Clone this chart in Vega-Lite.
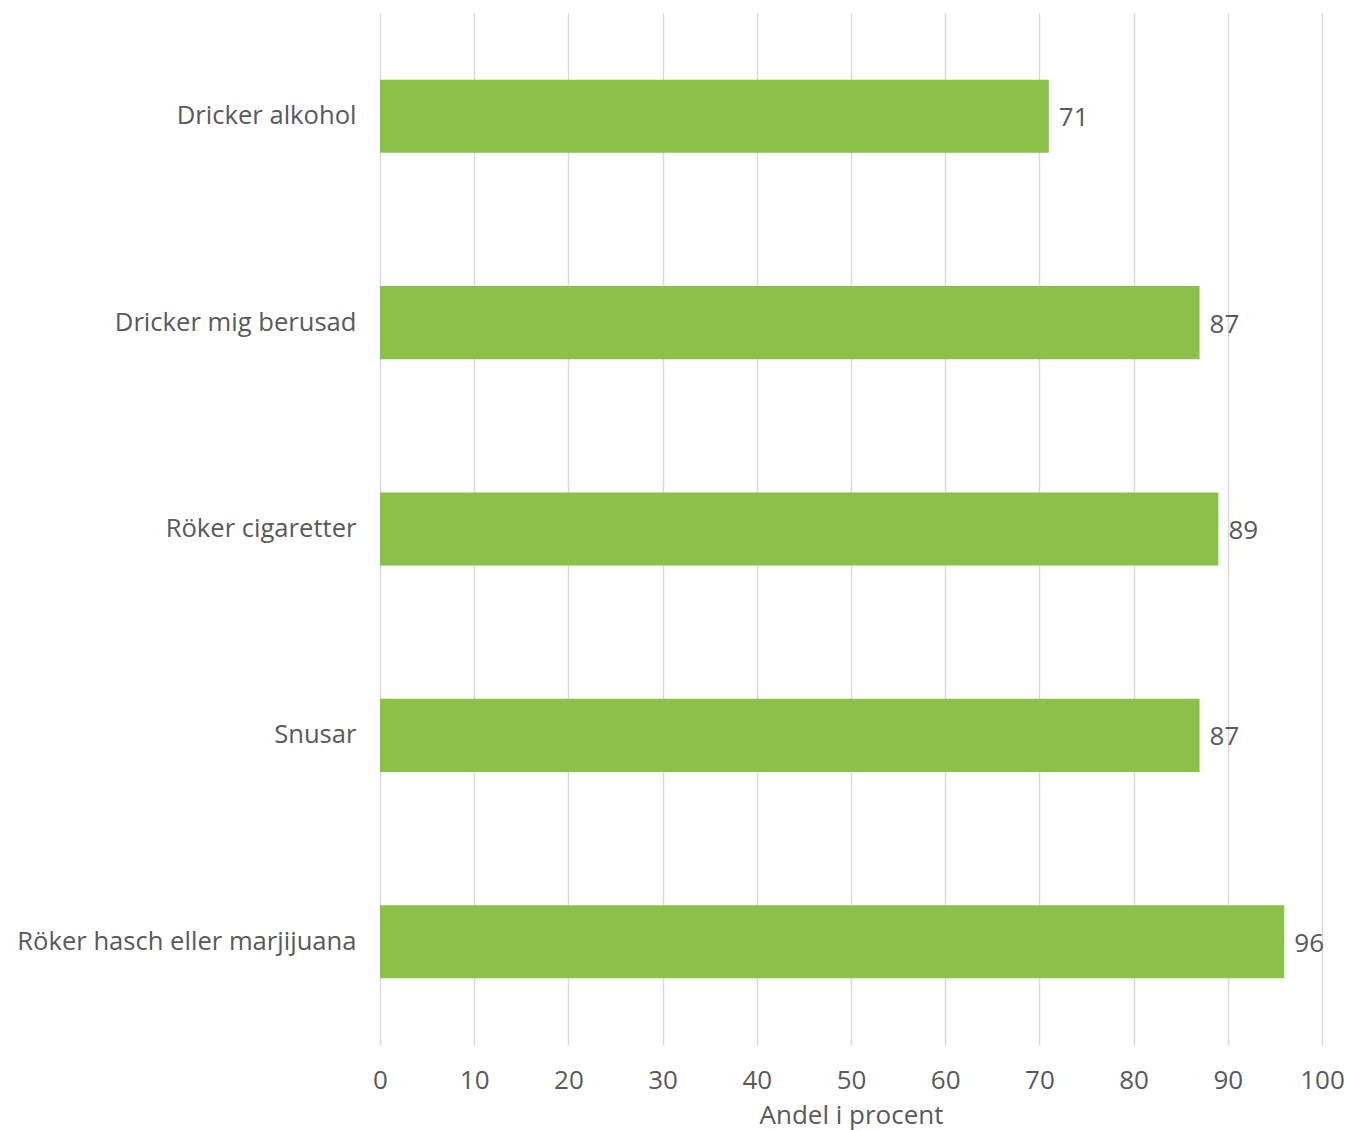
{
  "$schema": "https://vega.github.io/schema/vega-lite/v6.json",
  "width": 942,
  "height": 1032,
  "autosize": {"type": "none"},
  "padding": {"left": 380, "top": 13, "right": 25, "bottom": 85},
  "background": "white",
  "config": {
    "view": {"stroke": null},
    "font": "Open Sans"
  },
  "data": {
    "values": [
      {"kategori": "Dricker alkohol", "andel": 71},
      {"kategori": "Dricker mig berusad", "andel": 87},
      {"kategori": "Röker cigaretter", "andel": 89},
      {"kategori": "Snusar", "andel": 87},
      {"kategori": "Röker hasch eller marjijuana", "andel": 96}
    ]
  },
  "encoding": {
    "y": {
      "field": "kategori",
      "type": "nominal",
      "sort": null,
      "scale": {"paddingInner": 0.646, "paddingOuter": 0.323},
      "axis": {
        "title": null,
        "domain": false,
        "ticks": false,
        "labelFontSize": 25.6,
        "labelColor": "#595959",
        "labelPadding": 24,
        "labelLimit": 400
      }
    },
    "x": {
      "field": "andel",
      "type": "quantitative",
      "scale": {"domain": [0, 100], "nice": false},
      "axis": {
        "values": [0, 10, 20, 30, 40, 50, 60, 70, 80, 90, 100],
        "title": "Andel i procent",
        "titleFontSize": 26,
        "titleFontWeight": "normal",
        "titleColor": "#595959",
        "titlePadding": 9,
        "domain": false,
        "ticks": false,
        "grid": true,
        "gridColor": "#d9d9d9",
        "gridWidth": 1.5,
        "labelFontSize": 26,
        "labelColor": "#595959",
        "labelPadding": 22,
        "labelFlush": false
      }
    }
  },
  "layer": [
    {"mark": {"type": "bar", "color": "#8bc04b"}},
    {
      "mark": {"type": "text", "align": "left", "baseline": "middle", "dx": 10, "dy": 2, "fontSize": 26, "color": "#595959"},
      "encoding": {"text": {"field": "andel", "type": "quantitative"}}
    }
  ]
}
